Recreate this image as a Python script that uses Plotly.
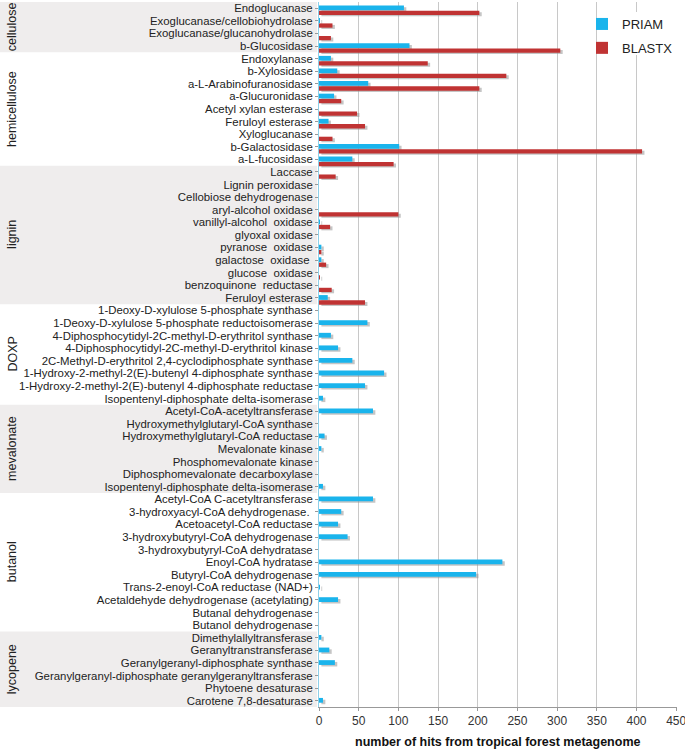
import plotly.graph_objects as go

groups = ["cellulose", "hemicellulose", "lignin", "DOXP", "mevalonate", "butanol", "lycopene"]
group_sizes = [4, 9, 11, 8, 7, 11, 6]

enzymes = [
    "Endoglucanase", "Exoglucanase/cellobiohydrolase", "Exoglucanase/glucanohydrolase", "b-Glucosidase",
    "Endoxylanase", "b-Xylosidase", "a-L-Arabinofuranosidase", "a-Glucuronidase", "Acetyl xylan esterase",
    "Feruloyl esterase", "Xyloglucanase", "b-Galactosidase", "a-L-fucosidase",
    "Laccase", "Lignin peroxidase", "Cellobiose dehydrogenase", "aryl-alcohol oxidase", "vanillyl-alcohol  oxidase",
    "glyoxal oxidase", "pyranose  oxidase", "galactose  oxidase ", "glucose  oxidase", "benzoquinone  reductase",
    "Feruloyl esterase",
    "1-Deoxy-D-xylulose 5-phosphate synthase", "1-Deoxy-D-xylulose 5-phosphate reductoisomerase",
    "4-Diphosphocytidyl-2C-methyl-D-erythritol synthase", "4-Diphosphocytidyl-2C-methyl-D-erythritol kinase",
    "2C-Methyl-D-erythritol 2,4-cyclodiphosphate synthase", "1-Hydroxy-2-methyl-2(E)-butenyl 4-diphosphate synthase",
    "1-Hydroxy-2-methyl-2(E)-butenyl 4-diphosphate reductase", "Isopentenyl-diphosphate delta-isomerase",
    "Acetyl-CoA-acetyltransferase", "Hydroxymethylglutaryl-CoA synthase", "Hydroxymethylglutaryl-CoA reductase",
    "Mevalonate kinase", "Phosphomevalonate kinase", "Diphosphomevalonate decarboxylase",
    "Isopentenyl-diphosphate delta-isomerase",
    "Acetyl-CoA C-acetyltransferase", "3-hydroxyacyl-CoA dehydrogenase. ", "Acetoacetyl-CoA reductase",
    "3-hydroxybutyryl-CoA dehydrogenase", "3-hydroxybutyryl-CoA dehydratase", "Enoyl-CoA hydratase",
    "Butyryl-CoA dehydrogenase", "Trans-2-enoyl-CoA reductase (NAD+)", "Acetaldehyde dehydrogenase (acetylating)",
    "Butanal dehydrogenase", "Butanol dehydrogenase",
    "Dimethylallyltransferase", "Geranyltranstransferase", "Geranylgeranyl-diphosphate synthase",
    "Geranylgeranyl-diphosphate geranylgeranyltransferase", "Phytoene desaturase", "Carotene 7,8-desaturase",
]

priam = [
    107, 1, 0, 114,
    15, 23, 62, 19, 0, 12, 0, 101, 42,
    0, 0, 0, 0, 1, 0, 3, 3, 0, 0, 11,
    0, 61, 15, 24, 42, 82, 58, 5,
    68, 0, 7, 3, 0, 0, 5,
    68, 28, 24, 36, 0, 231, 198, 1, 24, 0, 0,
    3, 13, 20, 0, 0, 5,
]

blastx = [
    202, 17, 15, 304,
    137, 236, 202, 28, 48, 58, 17, 407, 94,
    21, 0, 0, 100, 14, 0, 3, 9, 1, 16, 58,
    0, 0, 0, 0, 0, 0, 0, 0,
    0, 0, 0, 0, 0, 0, 0,
    0, 0, 0, 0, 0, 0, 0, 0, 0, 0, 0,
    0, 0, 0, 0, 0, 0,
]

x_ticks = [0, 50, 100, 150, 200, 250, 300, 350, 400, 450]

rows = list(range(len(enzymes)))
C_PRIAM = "#1ab4ec"
C_BLASTX = "#c03333"
SHADOW = "rgba(150,150,150,0.55)"
FONT = "Liberation Sans, Arial, sans-serif"

# plot-area geometry in pixels
L, R, T, B = 319, 8, 2, 43
W, H = 685, 750
PW = W - L - R
PH = H - T - B

def px_x(p):
    return (p - L) / PW

def px_y(p):
    return 1 - (p - T) / PH

fig = go.Figure()

# shadows
fig.add_trace(go.Bar(y=rows, x=priam, base=[3 if v > 0 else 0 for v in priam], orientation="h",
                     offset=-0.08, width=0.36, marker=dict(color=SHADOW, line=dict(width=0)),
                     showlegend=False, hoverinfo="skip"))
fig.add_trace(go.Bar(y=rows, x=blastx, base=[3 if v > 0 else 0 for v in blastx], orientation="h",
                     offset=0.32, width=0.32, marker=dict(color=SHADOW, line=dict(width=0)),
                     showlegend=False, hoverinfo="skip"))
# main bars
fig.add_trace(go.Bar(y=rows, x=priam, orientation="h", name="PRIAM", legendgroup="p",
                     offset=-0.22, width=0.38, marker=dict(color=C_PRIAM, line=dict(width=0))))
fig.add_trace(go.Bar(y=rows, x=blastx, orientation="h", name="BLASTX", legendgroup="b",
                     offset=0.2, width=0.34, marker=dict(color=C_BLASTX, line=dict(width=0))))

shapes = []
annotations = []
start = 0
for i, (g, n) in enumerate(zip(groups, group_sizes)):
    y0 = start - 0.5
    y1 = start + n - 0.5
    if i % 2 == 0:
        shapes.append(dict(type="rect", xref="paper", yref="y", x0=px_x(0), x1=px_x(317), y0=y0, y1=y1,
                           fillcolor="#efeded", line=dict(width=0), layer="below"))
    annotations.append(dict(text=g, xref="paper", yref="y", x=px_x(12), y=(y0 + y1) / 2,
                            textangle=-90, showarrow=False, xanchor="center", yanchor="middle",
                            font=dict(size=12.5, color="#222222", family=FONT)))
    start += n

# white box behind legend (covers gridline like the reference)
shapes.append(dict(type="rect", xref="paper", yref="paper", x0=px_x(598), x1=px_x(673),
                   y0=px_y(55), y1=px_y(12), fillcolor="white", line=dict(width=0), layer="above"))

annotations.append(dict(text="<b>number of hits from tropical forest metagenome</b>", xref="paper", yref="paper",
                        x=0.5, y=px_y(742), xanchor="center", yanchor="middle", showarrow=False,
                        font=dict(size=12.5, color="#111111", family=FONT)))

fig.update_layout(
    width=W, height=H,
    margin=dict(l=L, r=R, t=T, b=B, autoexpand=False),
    paper_bgcolor="white", plot_bgcolor="white",
    barmode="overlay",
    font=dict(family=FONT, color="#222222"),
    shapes=shapes,
    annotations=annotations,
    legend=dict(x=px_x(582), y=px_y(9), xanchor="left", yanchor="top", bgcolor="rgba(0,0,0,0)",
                font=dict(size=13, color="#222222"), tracegroupgap=4),
    showlegend=True,
)
fig.update_xaxes(range=[0, 451], tickvals=x_ticks, ticktext=[str(v) for v in x_ticks], automargin=False,
                 ticklabeloverflow="allow",
                 showgrid=True, gridcolor="#c8c8c8", gridwidth=1.2, zeroline=False,
                 showline=True, linecolor="#999999", linewidth=1, ticks="outside", ticklen=3,
                 tickcolor="#999999", tickfont=dict(size=12, color="#333333"))
fig.update_yaxes(range=[len(enzymes) - 0.5, -0.5], tickvals=rows, ticktext=enzymes, automargin=False,
                 showgrid=False, zeroline=False, showline=True, linecolor="#8fcfe8", linewidth=1,
                 ticks="outside", ticklen=3, tickcolor="#999999",
                 tickfont=dict(size=11.4, color="#222222"))

fig.write_html("out.html", config={"displayModeBar": False},
               post_script="document.body.style.margin='0';document.body.style.overflow='hidden';")
